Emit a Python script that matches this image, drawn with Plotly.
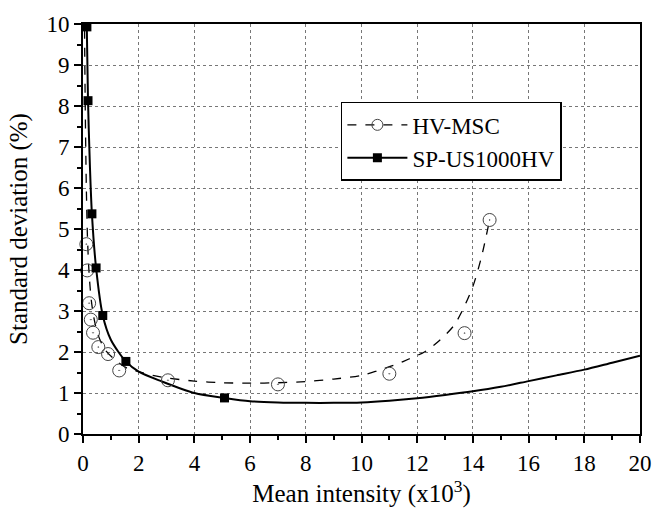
import plotly.graph_objects as go

# HV-MSC measured points
hv_x = [0.12, 0.15, 0.22, 0.28, 0.36, 0.55, 0.9, 1.3, 3.05, 7.0, 11.0, 13.7, 14.6]
hv_y = [4.63, 3.99, 3.19, 2.79, 2.47, 2.12, 1.95, 1.55, 1.31, 1.21, 1.47, 2.46, 5.22]
# HV-MSC fitted curve
hv_fit_x = [0.05, 0.08, 0.12, 0.16, 0.22, 0.3, 0.4, 0.55, 0.8, 1.2, 1.6, 2.0, 2.5, 3.0,
            4, 5, 6, 7, 8, 9, 10, 10.6, 11.3, 11.7, 12.26, 12.8, 13.3, 13.6, 14.0, 14.3, 14.6]
hv_fit_y = [10.3, 8.0, 6.0, 4.8, 3.9, 3.25, 2.8, 2.4, 2.05, 1.78, 1.6, 1.52, 1.43, 1.37,
            1.29, 1.25, 1.24, 1.25, 1.28, 1.34, 1.43, 1.55, 1.71, 1.83, 2.0, 2.28, 2.63, 2.98, 3.6, 4.3, 5.22]

# SP-US1000HV measured points
sp_x = [0.14, 0.18, 0.32, 0.47, 0.71, 1.54, 5.08]
sp_y = [9.93, 8.13, 5.37, 4.05, 2.89, 1.77, 0.88]
# SP-US1000HV fitted curve
sp_fit_x = [0.12, 0.18, 0.25, 0.32, 0.47, 0.71, 1.0, 1.54, 2.0, 2.84, 4, 5.08, 6, 7, 8, 9,
            10, 11, 12, 13, 14, 15, 16, 17, 18, 19, 20]
sp_fit_y = [10.6, 8.13, 6.5, 5.37, 4.05, 2.89, 2.3, 1.77, 1.52, 1.28, 1.0, 0.88, 0.8, 0.77,
            0.76, 0.76, 0.77, 0.81, 0.87, 0.95, 1.04, 1.15, 1.29, 1.43, 1.57, 1.74, 1.91]

series_names = ["HV-MSC", "SP-US1000HV"]
x_ticks = [0, 2, 4, 6, 8, 10, 12, 14, 16, 18, 20]
y_ticks = [0, 1, 2, 3, 4, 5, 6, 7, 8, 9, 10]

FONT = "Liberation Serif"

fig = go.Figure()

# fitted curves
fig.add_trace(go.Scatter(x=hv_fit_x, y=hv_fit_y, mode="lines", showlegend=False,
                         line=dict(color="black", width=1.3, dash="dash", shape="spline", smoothing=0.8)))
fig.add_trace(go.Scatter(x=sp_fit_x, y=sp_fit_y, mode="lines", showlegend=False,
                         line=dict(color="black", width=2, shape="spline", smoothing=0.8)))

# markers
fig.add_trace(go.Scatter(x=hv_x, y=hv_y, mode="markers", showlegend=False, cliponaxis=False,
                         marker=dict(symbol="circle-open-dot", size=13, color="#444",
                                     line=dict(width=1, color="#444"))))
fig.add_trace(go.Scatter(x=sp_x, y=sp_y, mode="markers", showlegend=False, cliponaxis=False,
                         marker=dict(symbol="square", size=9, color="black")))

# legend-only entries
fig.add_trace(go.Scatter(x=[None], y=[None], mode="lines+markers", name=series_names[0],
                         line=dict(color="black", width=1.3, dash="dash"),
                         marker=dict(symbol="circle-open", size=11, color="#444", line=dict(width=1))))
fig.add_trace(go.Scatter(x=[None], y=[None], mode="lines+markers", name=series_names[1],
                         line=dict(color="black", width=2),
                         marker=dict(symbol="square", size=9, color="black")))

axis_common = dict(
    showline=True, linecolor="black", linewidth=2, mirror=True,
    ticks="outside", ticklen=7, tickwidth=1.5, tickcolor="black",
    showgrid=True, gridcolor="#777", gridwidth=1, griddash="dot",
    zeroline=False,
    tickfont=dict(family=FONT, size=23, color="black"),
)

fig.update_xaxes(range=[0, 20], tickvals=x_ticks,
                 minor=dict(ticks="outside", ticklen=4, dtick=1, tick0=0, tickcolor="black", showgrid=False),
                 title=dict(text="Mean intensity (x10<sup>3</sup>)", font=dict(family=FONT, size=25, color="black"),
                            standoff=6),
                 **axis_common)
fig.update_yaxes(range=[0, 10], tickvals=y_ticks,
                 minor=dict(ticks="outside", ticklen=4, dtick=0.5, tick0=0, tickcolor="black", showgrid=False),
                 title=dict(text="Standard deviation (%)", font=dict(family=FONT, size=25, color="black"),
                            standoff=12),
                 **axis_common)

fig.update_layout(
    width=664, height=520,
    margin=dict(l=83, r=15, t=16, b=86),
    paper_bgcolor="white", plot_bgcolor="white",
    font=dict(family=FONT, color="black"),
    legend=dict(x=0.463, y=0.81, xanchor="left", yanchor="top",
                bgcolor="white", bordercolor="black", borderwidth=1.5,
                font=dict(family=FONT, size=23, color="black"),
                tracegroupgap=0, itemwidth=60),
)

fig.write_html("out.html")
